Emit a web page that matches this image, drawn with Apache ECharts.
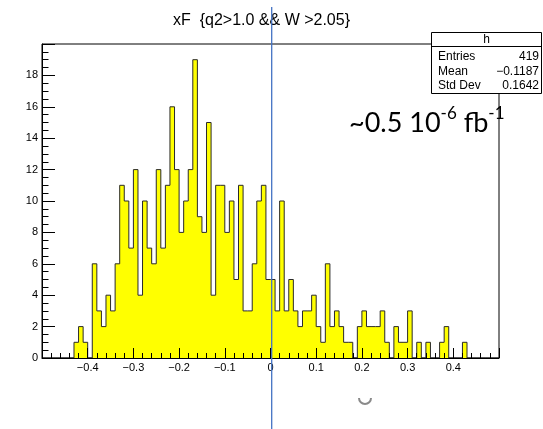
<!DOCTYPE html>
<html>
<head>
<meta charset="utf-8">
<script src="https://cdn.jsdelivr.net/npm/echarts@6/dist/echarts.min.js"></script>
<style>
  html, body { margin: 0; padding: 0; background: #fff; }
  #chart { width: 543px; height: 429px; }
</style>
</head>
<body>
<div id="chart"></div>
<script>
// histogram h: xF, 100 bins from -0.5 to 0.5
const xMin = -0.5
const xMax = 0.5
const binWidth = 0.01
const counts = [
  // -0.50 .. -0.41
  0, 0, 0, 0, 0, 0, 0, 1, 2, 1,
  // -0.40 .. -0.31
  0, 6, 3, 2, 4, 3, 6, 11, 10, 7,
  // -0.30 .. -0.21
  12, 4, 10, 7, 6, 12, 7, 11, 16, 12,
  // -0.20 .. -0.11
  8, 10, 12, 19, 9, 8, 15, 4, 11, 11,
  // -0.10 .. -0.01
  8, 10, 5, 11, 3, 3, 6, 10, 11, 5,
  // 0.00 .. 0.09
  5, 3, 10, 3, 5, 3, 2, 3, 3, 4,
  // 0.10 .. 0.19
  2, 1, 6, 2, 3, 2, 1, 1, 0, 2,
  // 0.20 .. 0.29
  3, 2, 2, 2, 3, 1, 0, 2, 1, 1,
  // 0.30 .. 0.39
  3, 0, 1, 0, 1, 0, 0, 1, 2, 0,
  // 0.40 .. 0.49
  0, 0, 1, 0, 0, 0, 0, 0, 0, 0,
]

// tick labels
const xTickLabels = ['\u22120.4', '\u22120.3', '\u22120.2', '\u22120.1', '0', '0.1', '0.2', '0.3', '0.4']
const yTickLabels = ['0', '2', '4', '6', '8', '10', '12', '14', '16', '18']

// stats box
const statLabels = ['Entries', 'Mean', 'Std Dev']
const statValues = ['419', '\u22120.1187', '0.1642']

const titleText = 'xF  {q2>1.0 && W >2.05}'

// step points at bin low edges (+ closing edge)
const stepData = counts.map((c, i) => [xMin + i * binWidth, c])
stepData.push([xMax, counts[counts.length - 1]])

const FONT = '"Liberation Sans", Arial, Helvetica, sans-serif'
const NOTE_FONT = 'Lato, "Open Sans", sans-serif'

const chart = echarts.init(document.getElementById('chart'))

const statTexts = []
statLabels.forEach((lab, i) => {
  const y = 57 + i * 14.5
  statTexts.push({
    type: 'text', z: 21, x: 438, y: y,
    style: { text: lab, fill: '#000', fontSize: 12, fontFamily: FONT, align: 'left', verticalAlign: 'middle' },
  })
  statTexts.push({
    type: 'text', z: 21, x: 539, y: y,
    style: { text: statValues[i], fill: '#000', fontSize: 12, fontFamily: FONT, align: 'right', verticalAlign: 'middle' },
  })
})

chart.setOption({
  backgroundColor: '#fff',
  animation: false,
  grid: {
    left: 42,
    top: 44,
    right: 44,
    bottom: 71,
    show: true,
    borderColor: '#000',
    borderWidth: 1,
    backgroundColor: 'transparent',
    containLabel: false,
    outerBoundsMode: 'none',
  },
  xAxis: {
    type: 'value',
    min: xMin,
    max: xMax,
    interval: 0.1,
    z: 5,
    axisLine: { show: true, onZero: false, lineStyle: { color: '#000', width: 1 } },
    axisTick: { show: true, inside: true, length: 10, lineStyle: { color: '#000' } },
    minorTick: { show: true, splitNumber: 5, length: 5, lineStyle: { color: '#000' } },
    splitLine: { show: false },
    axisLabel: {
      margin: 4,
      fontSize: 11,
      fontFamily: FONT,
      color: '#000',
      formatter: v => {
        const k = Math.round(v * 10) + 4
        return k >= 0 && k < xTickLabels.length ? xTickLabels[k] : ''
      },
    },
  },
  yAxis: {
    type: 'value',
    min: 0,
    max: 20,
    interval: 2,
    z: 5,
    axisLine: { show: true, onZero: false, lineStyle: { color: '#000', width: 1 } },
    axisTick: { show: true, inside: true, length: 13, lineStyle: { color: '#000' } },
    minorTick: { show: true, splitNumber: 4, length: 6.5, lineStyle: { color: '#000' } },
    splitLine: { show: false },
    axisLabel: {
      margin: 4,
      fontSize: 11,
      fontFamily: FONT,
      color: '#000',
      formatter: v => yTickLabels[Math.round(v / 2)] || '',
    },
  },
  series: [
    {
      type: 'line',
      step: 'end',
      data: stepData,
      showSymbol: false,
      symbol: 'none',
      lineStyle: { color: '#2a2a2a', width: 1 },
      areaStyle: { color: '#ffff00', opacity: 1 },
      z: 2,
    },
  ],
  graphic: [
    {
      type: 'text', x: 261.5, y: 21,
      style: { text: titleText, fill: '#000', fontSize: 16, fontFamily: FONT, align: 'center', verticalAlign: 'middle' },
    },
    // stats box
    {
      type: 'rect', z: 20,
      shape: { x: 431.5, y: 32.5, width: 110, height: 61 },
      style: { fill: '#fff', stroke: '#000', lineWidth: 1 },
    },
    {
      type: 'line', z: 21,
      shape: { x1: 431.5, y1: 46.5, x2: 541.5, y2: 46.5 },
      style: { stroke: '#000', lineWidth: 1 },
    },
    {
      type: 'text', z: 21, x: 486.5, y: 40,
      style: { text: 'h', fill: '#000', fontSize: 12, fontFamily: FONT, align: 'center', verticalAlign: 'middle' },
    },
    ...statTexts,
    // luminosity note
    {
      type: 'text', z: 30, x: 349, y: 105,
      style: {
        text: '{m|~0.5 10}{s|-6}{m| fb}{s|-1}',
        fill: '#000',
        rich: {
          m: { fontSize: 27, fontFamily: NOTE_FONT, lineHeight: 32, verticalAlign: 'bottom', fill: '#000' },
          s: { fontSize: 17, fontFamily: NOTE_FONT, lineHeight: 19, verticalAlign: 'top', fill: '#000' },
        },
      },
    },
    // vertical marker line
    {
      type: 'line', z: 40,
      shape: { x1: 271.7, y1: 7, x2: 271.7, y2: 429 },
      style: { stroke: '#4472c4', lineWidth: 1.3 },
    },
    {
      type: 'arc', z: 30,
      shape: { cx: 365, cy: 398, r: 6, startAngle: 0, endAngle: Math.PI },
      style: { stroke: '#8a8a8a', lineWidth: 2, fill: null },
    },
  ],
})
</script>
</body>
</html>
